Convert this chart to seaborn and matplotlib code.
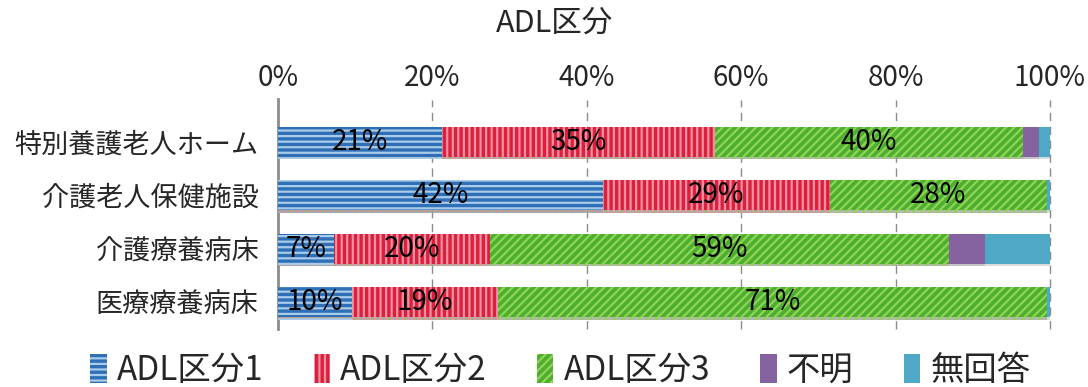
import numpy as np
import pandas as pd
import matplotlib
matplotlib.use("Agg")
import matplotlib.pyplot as plt
import matplotlib.patheffects as pe
from matplotlib.patches import Patch
import seaborn as sns

# ---------------------------------------------------------------
# data (percent of each facility type)
# ---------------------------------------------------------------
facilities = ["特別養護老人ホーム", "介護老人保健施設", "介護療養病床", "医療療養病床"]
series_names = ["ADL区分1", "ADL区分2", "ADL区分3", "不明", "無回答"]
adl1 = [21.2, 42.1, 7.3, 9.6]
adl2 = [35.4, 29.4, 20.2, 18.9]
adl3 = [39.9, 28.1, 59.4, 71.1]
unknown = [2.1, 0.0, 4.7, 0.0]
no_answer = [1.4, 0.4, 8.4, 0.4]
ticks = [0, 20, 40, 60, 80, 100]

face = ["#2E6FB5", "#D9213B", "#4DAE32", "#8562A0", "#4FA8C5"]
hatch_col = ["#A9CBEA", "#F28FA4", "#8FD552", "#8562A0", "#4FA8C5"]
hatches = ["---", "|||", "////", "", ""]

sns.set_style("white")
plt.rcParams["font.family"] = ["Noto Sans CJK JP", "DejaVu Sans"]
plt.rcParams["hatch.linewidth"] = 1.6

df = pd.DataFrame(
    {"施設": facilities, series_names[0]: adl1, series_names[1]: adl2,
     series_names[2]: adl3, series_names[3]: unknown, series_names[4]: no_answer}
)
cum = df[series_names].cumsum(axis=1)

fig = plt.figure(figsize=(10.88, 3.87), dpi=100)
ax = fig.add_axes([0.2555, 0.15, 0.7095, 0.553])

shadow = [pe.withSimplePatchShadow(offset=(0, -2), shadow_rgbFace="#9a9a9a", alpha=0.35), pe.Normal()]

# stacked bars: draw cumulative totals from the back to the front
for i in range(len(series_names) - 1, -1, -1):
    sns.barplot(
        x=cum[series_names[i]], y=df["施設"], ax=ax, orient="h",
        color=face[i], saturation=1, width=0.56,
        edgecolor=hatch_col[i], linewidth=0, hatch=hatches[i],
        zorder=3, path_effects=shadow,
    )

# value labels for the three ADL segments
for i in range(3):
    vals = df[series_names[i]]
    for j, v in enumerate(vals):
        ax.text(cum[series_names[i]][j] - v / 2, j, f"{round(v)}%",
                ha="center", va="center", fontsize=20, color="black", zorder=5)

ax.set_xlim(0, 100)
ax.set_ylim(3.5, -0.5)
ax.set_xticks(ticks)
ax.set_xticklabels([f"{t}%" for t in ticks])
ax.xaxis.tick_top()
ax.tick_params(axis="x", labelsize=20, length=0, pad=16)
ax.tick_params(axis="y", labelsize=19.5, length=0, pad=14)
ax.set_xlabel("")
ax.set_ylabel("")
for t in ticks[1:]:
    ax.axvline(t, ymin=0, ymax=1.07, color="#8c8c8c", lw=1, ls=(0, (6, 4)),
               zorder=1, clip_on=False)
for s in ["top", "right", "bottom"]:
    ax.spines[s].set_visible(False)
ax.spines["left"].set_color("#8c8c8c")
ax.spines["left"].set_linewidth(2)
ax.spines["left"].set_bounds(3.5, -0.8)

fig.text(0.51, 0.94, "ADL区分", ha="center", va="center", fontsize=22)

handles = [Patch(facecolor=face[i], edgecolor=hatch_col[i], hatch=hatches[i], linewidth=0)
           for i in range(len(series_names))]
fig.legend(handles, series_names, loc="lower center", bbox_to_anchor=(0.515, -0.08),
           ncol=5, frameon=False, fontsize=24, handlelength=0.5, handleheight=1.0,
           handletextpad=0.3, columnspacing=1.5)

fig.savefig("out.png", dpi=100)
